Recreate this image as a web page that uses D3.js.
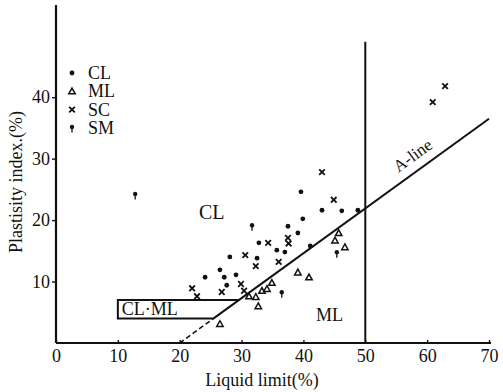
<!DOCTYPE html>
<html><head><meta charset="utf-8">
<script src="https://cdn.jsdelivr.net/npm/d3@7"></script>
<style>body{margin:0;background:#fff}svg{display:block}text{font-family:"Liberation Serif","DejaVu Serif",serif;fill:#111}</style>
</head><body><svg id="c" width="503" height="392"></svg>
<script>
const xTicks=[0,10,20,30,40,50,60,70];
const yTicks=[10,20,30,40];
const CL=[[24.1,10.7],[28.1,14.0],[29.1,11.1],[27.6,9.4],[32.5,13.8],[32.8,16.3],[35.7,15.1],[37.0,14.8],[37.5,19.0],[39.1,17.9],[39.6,24.6],[39.9,20.2],[41.1,15.8],[43.0,21.6],[46.2,21.5],[48.8,21.6],[26.5,11.9],[27.2,10.7]];
const SC=[[22.0,8.9],[22.8,7.6],[26.8,8.3],[29.9,9.6],[30.4,8.5],[30.6,14.3],[32.3,12.5],[34.3,16.3],[36.0,13.2],[37.5,17.1],[37.6,16.2],[43.0,27.8],[44.9,23.3],[60.9,39.2],[62.9,41.8]];
const ML=[[26.5,3.1],[31.2,7.6],[32.3,7.5],[32.7,6.0],[33.3,8.5],[34.1,8.8],[34.9,9.8],[39.1,11.5],[40.9,10.7],[45.7,17.9],[45.1,16.7],[46.7,15.6]];
const SM=[[12.8,24.1],[31.7,19.0],[36.5,8.1],[45.4,14.6]];
const legendItems=["CL","ML","SC","SM"];

const svg=d3.select("#c");
const x=d3.scaleLinear().domain([0,70]).range([56,489]);
const y=d3.scaleLinear().domain([0,55]).range([343,5]);
const ink="#111";

// axes
const gx=svg.append("g").attr("transform","translate(0,343)")
  .call(d3.axisBottom(x).tickValues(xTicks).tickSize(-3).tickPadding(4).tickFormat(d3.format("d")));
const gy=svg.append("g").attr("transform","translate(56,0)")
  .call(d3.axisLeft(y).tickValues(yTicks).tickSize(4).tickPadding(2).tickFormat(d3.format("d")));
[gx,gy].forEach(g=>{g.attr("font-family",null);g.select(".domain").attr("stroke",ink).attr("stroke-width",2.2);
  g.selectAll(".tick line").attr("stroke",ink).attr("stroke-width",1.4);
  g.selectAll("text").attr("font-size",18).attr("fill",ink);});
gx.select(".domain").attr("d","M56,0H491");
gy.select(".domain").attr("d","M0,343V5");
gx.selectAll("text").attr("dy","0.85em");

// A-line
const aLine=ll=>0.73*(ll-20);
const line=d3.line().x(d=>x(d[0])).y(d=>y(d[1]));
svg.append("path").attr("d",line([[20,0],[25.48,4]])).attr("stroke",ink).attr("stroke-width",1.6).attr("stroke-dasharray","5,3").attr("fill","none");
svg.append("path").attr("d",line([[25.48,4],[70,aLine(70)]])).attr("stroke",ink).attr("stroke-width",2).attr("fill","none");
// vertical LL=50
svg.append("path").attr("d",line([[50,0],[50,49]])).attr("stroke",ink).attr("stroke-width",2).attr("fill","none");
// CL-ML box
const llTop=20+7/0.73, llBot=20+4/0.73;
svg.append("path").attr("d",line([[llTop,7],[10,7],[10,4],[llBot,4]])).attr("stroke",ink).attr("stroke-width",2).attr("fill","none");

// labels
svg.append("text").attr("x",x(10)+4).attr("y",y(5.5)+6).attr("font-size",18).text("CL·ML");
svg.append("text").attr("x",199).attr("y",219).attr("font-size",20).text("CL");
svg.append("text").attr("x",316).attr("y",321).attr("font-size",18).text("ML");
const ang=-Math.atan((y(0)-y(0.73))/(x(1)-x(0)))*180/Math.PI;
svg.append("text").attr("transform",`translate(416,160) rotate(${ang})`).attr("text-anchor","middle").attr("font-size",17).text("A-line");
svg.append("text").attr("x",262).attr("y",386).attr("text-anchor","middle").attr("font-size",18).text("Liquid limit(%)");
svg.append("text").attr("transform","translate(22,182) rotate(-90)").attr("text-anchor","middle").attr("font-size",18).text("Plastisity index.(%)");

// markers
function drawMarker(g,type,cx,cy){
  if(type==="CL"){g.append("circle").attr("cx",cx).attr("cy",cy).attr("r",2.4).attr("fill",ink);}
  else if(type==="ML"){const s=3.2;g.append("path").attr("d",`M${cx},${cy-s}L${cx+s},${cy+s*0.8}L${cx-s},${cy+s*0.8}Z`).attr("fill","none").attr("stroke",ink).attr("stroke-width",1.5);}
  else if(type==="SC"){const s=2.8;g.append("path").attr("d",`M${cx-s},${cy-s}L${cx+s},${cy+s}M${cx+s},${cy-s}L${cx-s},${cy+s}`).attr("stroke",ink).attr("stroke-width",1.8);}
  else {g.append("circle").attr("cx",cx).attr("cy",cy-1).attr("r",2.2).attr("fill",ink);
    g.append("path").attr("d",`M${cx},${cy}V${cy+4.5}`).attr("stroke",ink).attr("stroke-width",1.3);}
}
const mg=svg.append("g");
[["CL",CL],["SC",SC],["ML",ML],["SM",SM]].forEach(([t,arr])=>arr.forEach(d=>drawMarker(mg,t,x(d[0]),y(d[1]))));

// legend
const lg=svg.append("g");
legendItems.forEach((t,i)=>{const yy=73+i*18.3;drawMarker(lg,t,72,yy);
  lg.append("text").attr("x",88).attr("y",yy+6).attr("font-size",18).text(t);});
</script></body></html>
